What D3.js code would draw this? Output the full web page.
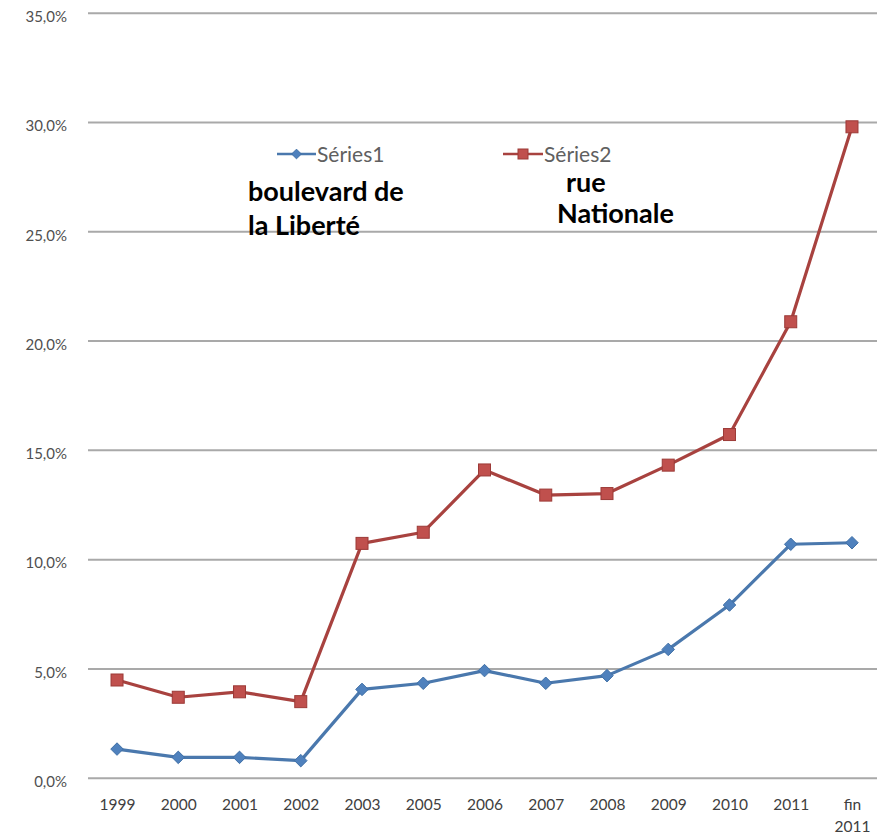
<!DOCTYPE html>
<html>
<head>
<meta charset="utf-8">
<script src="https://cdn.jsdelivr.net/npm/d3@7"></script>
<style>
  html, body { margin: 0; padding: 0; background: #fff; }
  svg { display: block; }
</style>
</head>
<body>
<div id="chart"></div>
<script>
// ---- data ----
const categories = ["1999","2000","2001","2002","2003","2005","2006","2007","2008","2009","2010","2011","fin 2011"];
const series1 = [1.31, 0.93, 0.93, 0.78, 4.04, 4.32, 4.90, 4.32, 4.67, 5.87, 7.90, 10.68, 10.75];
const series2 = [4.47, 3.68, 3.93, 3.48, 10.72, 11.23, 14.08, 12.93, 13.00, 14.30, 15.70, 20.86, 29.78];
const seriesNames = ["Séries1", "Séries2"];
const yTicks = [0, 5, 10, 15, 20, 25, 30, 35];
const annotations1 = ["boulevard de", "la Liberté"];
const annotations2 = ["rue", "Nationale"];

// ---- layout ----
const W = 877, H = 835;
const svg = d3.select("#chart").append("svg").attr("width", W).attr("height", H);

const x = d3.scalePoint().domain(categories).range([86.4, 882.6]).padding(0.5);
const y = d3.scaleLinear().domain([0, 35]).range([777.7, 12.7]);

const gridLeft = 88, gridRight = 877;

// y axis with gridlines
const yAxis = d3.axisLeft(y)
  .tickValues(yTicks)
  .tickSize(-(gridRight - gridLeft))
  .tickPadding(21)
  .tickFormat(d => d3.format(".1f")(d).replace(".", ",") + "%");
const gy = svg.append("g").attr("transform", `translate(${gridLeft},0)`).call(yAxis);
gy.select(".domain").remove();
gy.selectAll(".tick line").attr("stroke", "#a9a9a9").attr("stroke-width", 2);
gy.selectAll(".tick text")
  .attr("font-family", "Lato, 'Open Sans', sans-serif")
  .attr("font-size", 15)
  .attr("fill", "#505050")
  .attr("dy", "0.72em")
  .attr("y", -2);

// x axis labels
const xAxis = d3.axisBottom(x).tickSize(0).tickPadding(20).tickFormat(() => "");
const gx = svg.append("g").attr("transform", `translate(0,${y(0)})`).call(xAxis);
gx.select(".domain").remove();
gx.selectAll(".tick text").each(function(d) {
  const t = d3.select(this);
  const parts = d.split(" ");
  t.attr("font-family", "Lato, 'Open Sans', sans-serif")
   .attr("font-size", 15.5)
   .attr("fill", "#404040")
   .attr("dy", null)
   .attr("y", 32);
  parts.forEach((p, i) => {
    t.append("tspan").attr("x", 0).attr("dy", i === 0 ? 0 : 22).text(p);
  });
});

// lines
const line = d3.line().x((d, i) => x(categories[i])).y(d => y(d));

const blue = "#4a78ad", blueFill = "#4f81bd";
const red = "#a8423f", redFill = "#c0504d";

svg.append("path").datum(series2).attr("d", line)
  .attr("fill", "none").attr("stroke", red).attr("stroke-width", 3.2).attr("stroke-linejoin", "round");
svg.append("path").datum(series1).attr("d", line)
  .attr("fill", "none").attr("stroke", blue).attr("stroke-width", 3.2).attr("stroke-linejoin", "round");

// markers
const sq = 12;
svg.append("g").selectAll("rect").data(series2).join("rect")
  .attr("x", (d, i) => x(categories[i]) - sq / 2)
  .attr("y", d => y(d) - sq / 2)
  .attr("width", sq).attr("height", sq)
  .attr("fill", redFill).attr("stroke", "#9c3a37").attr("stroke-width", 1);

const diamond = d3.symbol().type(d3.symbolDiamond2).size(100);
svg.append("g").selectAll("path").data(series1).join("path")
  .attr("transform", (d, i) => `translate(${x(categories[i])},${y(d)})`)
  .attr("d", diamond)
  .attr("fill", blueFill).attr("stroke", "#3f6fa6").attr("stroke-width", 1);

// legend
const legend = [
  { name: seriesNames[0], x0: 277, x1: 316, color: blue, fill: blueFill, type: "diamond" },
  { name: seriesNames[1], x0: 503, x1: 543, color: red, fill: redFill, type: "square" }
];
legend.forEach(l => {
  const ly = 154;
  svg.append("line").attr("x1", l.x0).attr("x2", l.x1).attr("y1", ly).attr("y2", ly)
    .attr("stroke", l.color).attr("stroke-width", 2.5);
  const cx = (l.x0 + l.x1) / 2;
  if (l.type === "diamond") {
    svg.append("path").attr("transform", `translate(${cx},${ly})`)
      .attr("d", d3.symbol().type(d3.symbolDiamond2).size(60))
      .attr("fill", l.fill).attr("stroke", "#3f6fa6");
  } else {
    svg.append("rect").attr("x", cx - 5).attr("y", ly - 5).attr("width", 10).attr("height", 10)
      .attr("fill", l.fill).attr("stroke", "#9c3a37");
  }
  svg.append("text").attr("x", l.x1 + 1).attr("y", ly + 8)
    .attr("font-family", "Lato, 'Open Sans', sans-serif").attr("font-size", 21)
    .attr("fill", "#606060").text(l.name);
});

// annotations
const ann = svg.append("g").attr("font-family", "Lato, 'Open Sans', sans-serif")
  .attr("font-weight", "bold").attr("font-size", 27).attr("fill", "#000");
ann.append("text").attr("x", 248).attr("y", 201).text(annotations1[0]);
ann.append("text").attr("x", 248).attr("y", 235).text(annotations1[1]);
ann.append("text").attr("x", 566).attr("y", 192).text(annotations2[0]);
ann.append("text").attr("x", 557).attr("y", 223).text(annotations2[1]);
</script>
</body>
</html>
